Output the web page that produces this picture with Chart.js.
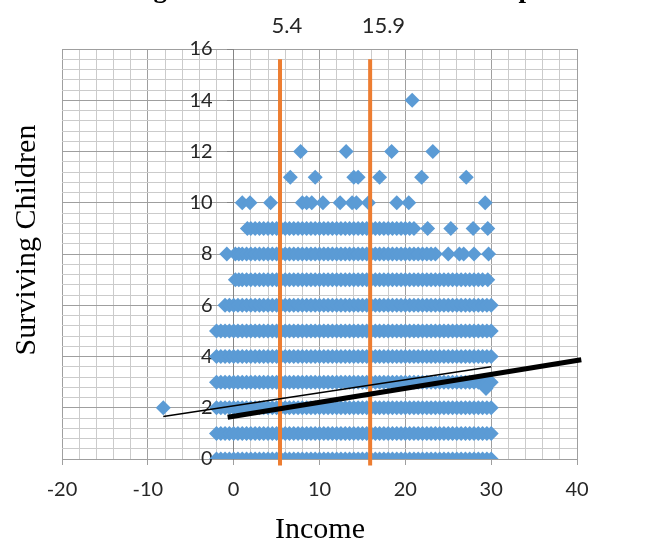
<!DOCTYPE html>
<html>
<head>
<meta charset="utf-8">
<script src="https://cdn.jsdelivr.net/npm/chart.js@4.4.1/dist/chart.umd.min.js"></script>
<style>
  html, body { margin: 0; padding: 0; background: #fff; }
  #wrap { width: 653px; height: 541px; position: relative; }
</style>
</head>
<body>
<div id="wrap"><canvas id="grafico"></canvas></div>
<script>
// values: one list of incomes per level of surviving children
const childrenLevels = [0, 1, 2, 3, 4, 5, 6, 7, 8, 9, 10, 11, 12, 14];

const fullBand = [-2, -1.5, -1, -0.5, 0, 0.5, 1, 1.5, 2, 2.5, 3, 3.5, 4, 4.5, 5, 5.5, 6, 6.5, 7, 7.5, 8, 8.5, 9, 9.5, 10, 10.5, 11, 11.5, 12, 12.5, 13, 13.5, 14, 14.5, 15, 15.5, 16, 16.5, 17, 17.5, 18, 18.5, 19, 19.5, 20, 20.5, 21, 21.5, 22, 22.5, 23, 23.5, 24, 24.5, 25, 25.5, 26, 26.5, 27, 27.5, 28, 28.5, 29, 29.5, 30];

const incomeAt0 = fullBand;
const incomeAt1 = fullBand;
const incomeAt2 = [-8.2].concat(fullBand);
const incomeAt3 = fullBand;
const incomeAt4 = fullBand;
const incomeAt5 = fullBand;
const incomeAt6 = [-1, -0.5, 0, 0.5, 1, 1.5, 2, 2.5, 3, 3.5, 4, 4.5, 5, 5.5, 6, 6.5, 7, 7.5, 8, 8.5, 9, 9.5, 10, 10.5, 11, 11.5, 12, 12.5, 13, 13.5, 14, 14.5, 15, 15.5, 16, 16.5, 17, 17.5, 18, 18.5, 19, 19.5, 20, 20.5, 21, 21.5, 22, 22.5, 23, 23.5, 24, 24.5, 25, 25.5, 26, 26.5, 27, 27.5, 28, 28.5, 29, 29.5, 30];
const incomeAt7 = [0.2, 0.6, 1, 1.5, 2, 2.5, 3, 3.5, 4, 4.5, 5, 5.5, 6, 6.5, 7, 7.5, 8, 8.5, 9, 9.5, 10, 10.5, 11, 11.5, 12, 12.5, 13, 13.5, 14, 14.5, 15, 15.5, 16, 16.5, 17, 17.5, 18, 18.5, 19, 19.5, 20, 20.5, 21, 21.5, 22, 22.5, 23, 23.5, 24, 24.5, 25, 25.5, 26, 26.5, 27, 27.5, 28, 28.5, 29, 29.6];
const incomeAt8 = [-0.8, 0.2, 0.6, 1, 1.5, 2, 2.5, 3, 3.5, 4, 4.5, 5, 5.5, 6, 6.5, 7, 7.5, 8, 8.5, 9, 9.5, 10, 10.5, 11, 11.5, 12, 12.5, 13, 13.5, 14, 14.5, 15, 15.5, 16, 16.5, 17, 17.5, 18, 18.5, 19, 19.5, 20, 20.5, 21, 21.5, 22, 22.5, 23, 23.5, 25, 26.3, 26.8, 28, 29.7];
const incomeAt9 = [1.6, 2, 2.5, 3, 3.5, 4, 4.5, 5, 5.5, 6, 6.5, 7, 7.5, 8, 8.5, 9, 9.5, 10, 10.5, 11, 11.5, 12, 12.5, 13, 13.5, 14, 14.5, 15, 15.5, 16, 16.5, 17, 17.5, 18, 18.5, 19, 19.5, 20, 20.5, 21, 22.6, 25.3, 27.9, 29.6];
const incomeAt10 = [1.0, 1.9, 4.3, 8.0, 8.5, 9.1, 10.4, 12.4, 13.8, 14.3, 15.7, 19.0, 20.4, 29.3];
const incomeAt11 = [6.6, 9.5, 14.0, 14.5, 17.0, 21.9, 27.1];
const incomeAt12 = [7.8, 13.1, 18.4, 23.2];
const incomeAt14 = [20.8];

const offGridIncome = [29.4];
const offGridChildren = [2.75];

// the two cut points and the two fitted lines
const cutIncome = [5.4, 15.9];
const cutLabels = ['5.4', '15.9'];
const cutChildren = [-0.25, 15.6];
const thinFitIncome = [-8.2, 30.0];
const thinFitChildren = [1.66, 3.6];
const thickFitIncome = [-0.7, 40.5];
const thickFitChildren = [1.63, 3.87];

const xTickLabels = [-20, -10, 0, 10, 20, 30, 40];
const yTickLabels = [0, 2, 4, 6, 8, 10, 12, 14, 16];
const chartTitle = 'Regression Lines for Income Groups';

const incomeRows = [incomeAt0, incomeAt1, incomeAt2, incomeAt3, incomeAt4, incomeAt5, incomeAt6,
                    incomeAt7, incomeAt8, incomeAt9, incomeAt10, incomeAt11, incomeAt12, incomeAt14];

function montarPontos() {
    const pontos = [];
    incomeRows.forEach((lista, i) => {
        lista.forEach(x => pontos.push({ x: x, y: childrenLevels[i] }));
    });
    offGridIncome.forEach((x, i) => pontos.push({ x: x, y: offGridChildren[i] }));
    return pontos;
}

function linha(xs, ys) {
    return xs.map((x, i) => ({ x: x, y: ys[i] }));
}

function ehMarcado(valor, lista) {
    return lista.some(v => Math.abs(v - valor) < 1e-6);
}

const corMenor = '#cbcbcb';
const corMaior = '#9f9f9f';
const corEixo = '#858585';

// y labels sit left of the axis that crosses at income 0, under the points
const rotulosY = {
    id: 'rotulosY',
    beforeDatasetsDraw(chart) {
        const ctx = chart.ctx;
        const { x, y } = chart.scales;
        const px = x.getPixelForValue(0) - 21;
        ctx.save();
        ctx.font = '20px Lato';
        ctx.fillStyle = '#262626';
        ctx.textAlign = 'right';
        ctx.textBaseline = 'middle';
        yTickLabels.forEach(v => ctx.fillText(String(v), px, y.getPixelForValue(v)));
        ctx.restore();
    }
};

// texts that are not part of the scales
const textos = {
    id: 'textos',
    afterDraw(chart) {
        const ctx = chart.ctx;
        const x = chart.scales.x;
        ctx.save();
        ctx.fillStyle = '#000';
        ctx.textBaseline = 'alphabetic';

        ctx.font = 'bold 27px "Liberation Serif"';
        ctx.textAlign = 'left';
        ctx.fillText(chartTitle, 122, -3);

        ctx.font = '22px Lato';
        ctx.fillStyle = '#262626';
        cutIncome.forEach((v, i) => {
            ctx.fillText(cutLabels[i], x.getPixelForValue(v) - 8.5, 33);
        });

        ctx.fillStyle = '#000';
        ctx.font = '30px "Liberation Serif"';
        ctx.textAlign = 'center';
        ctx.fillText('Income', 320, 538);

        ctx.translate(35, 240);
        ctx.rotate(-Math.PI / 2);
        ctx.fillText('Surviving Children', 0, 0);
        ctx.restore();
    }
};

function criarGrafico() {
    const ctx = document.getElementById('grafico').getContext('2d');

    new Chart(ctx, {
        type: 'scatter',
        data: {
            datasets: [
                {
                    label: 'Fit (thick)',
                    data: linha(thickFitIncome, thickFitChildren),
                    showLine: true,
                    borderColor: '#000',
                    borderWidth: 5,
                    pointRadius: 0,
                    clip: false,
                    order: 0
                },
                {
                    label: 'Fit (thin)',
                    data: linha(thinFitIncome, thinFitChildren),
                    showLine: true,
                    borderColor: '#000',
                    borderWidth: 1.5,
                    pointRadius: 0,
                    order: 1
                },
                {
                    label: 'Cut 1',
                    data: linha([cutIncome[0], cutIncome[0]], cutChildren),
                    showLine: true,
                    borderColor: '#ED7D31',
                    borderWidth: 4,
                    pointRadius: 0,
                    clip: false,
                    order: 2
                },
                {
                    label: 'Cut 2',
                    data: linha([cutIncome[1], cutIncome[1]], cutChildren),
                    showLine: true,
                    borderColor: '#ED7D31',
                    borderWidth: 4,
                    pointRadius: 0,
                    clip: false,
                    order: 2
                },
                {
                    label: 'Surviving Children',
                    data: montarPontos(),
                    pointStyle: 'rectRot',
                    pointRadius: 7.5,
                    backgroundColor: '#5B9BD5',
                    borderWidth: 0,
                    order: 3
                }
            ]
        },
        options: {
            responsive: true,
            maintainAspectRatio: false,
            animation: false,
            events: [],
            layout: { padding: { left: 62, right: 76, top: 49, bottom: 0 } },
            plugins: {
                legend: { display: false },
                tooltip: { enabled: false }
            },
            scales: {
                x: {
                    type: 'linear',
                    position: 'bottom',
                    min: -20,
                    max: 40,
                    afterFit: (escala) => { escala.height = 82; },
                    ticks: {
                        stepSize: 2,
                        autoSkip: false,
                        maxRotation: 0,
                        padding: 13,
                        color: '#262626',
                        font: { family: 'Lato', size: 20 },
                        callback: (v) => ehMarcado(v, xTickLabels) ? String(Math.round(v)) : ''
                    },
                    grid: {
                        lineWidth: 1,
                        tickLength: 6,
                        color: (c) => c.tick && ehMarcado(c.tick.value, xTickLabels) ? corMaior : corMenor,
                        tickColor: (c) => c.tick && ehMarcado(c.tick.value, xTickLabels) ? corMaior : 'rgba(0,0,0,0)'
                    },
                    border: { color: corMaior }
                },
                y: {
                    type: 'linear',
                    position: { x: 0 },
                    min: 0,
                    max: 16,
                    ticks: {
                        stepSize: 0.4,
                        autoSkip: false,
                        padding: 15,
                        callback: () => ''
                    },
                    grid: {
                        lineWidth: 1,
                        tickLength: 6,
                        color: (c) => c.tick && ehMarcado(c.tick.value, yTickLabels) ? corMaior : corMenor,
                        tickColor: (c) => c.tick && ehMarcado(c.tick.value, yTickLabels) ? corEixo : 'rgba(0,0,0,0)'
                    },
                    border: { color: corEixo }
                }
            }
        },
        plugins: [rotulosY, textos]
    });
}

window.onload = criarGrafico;
</script>
</body>
</html>
